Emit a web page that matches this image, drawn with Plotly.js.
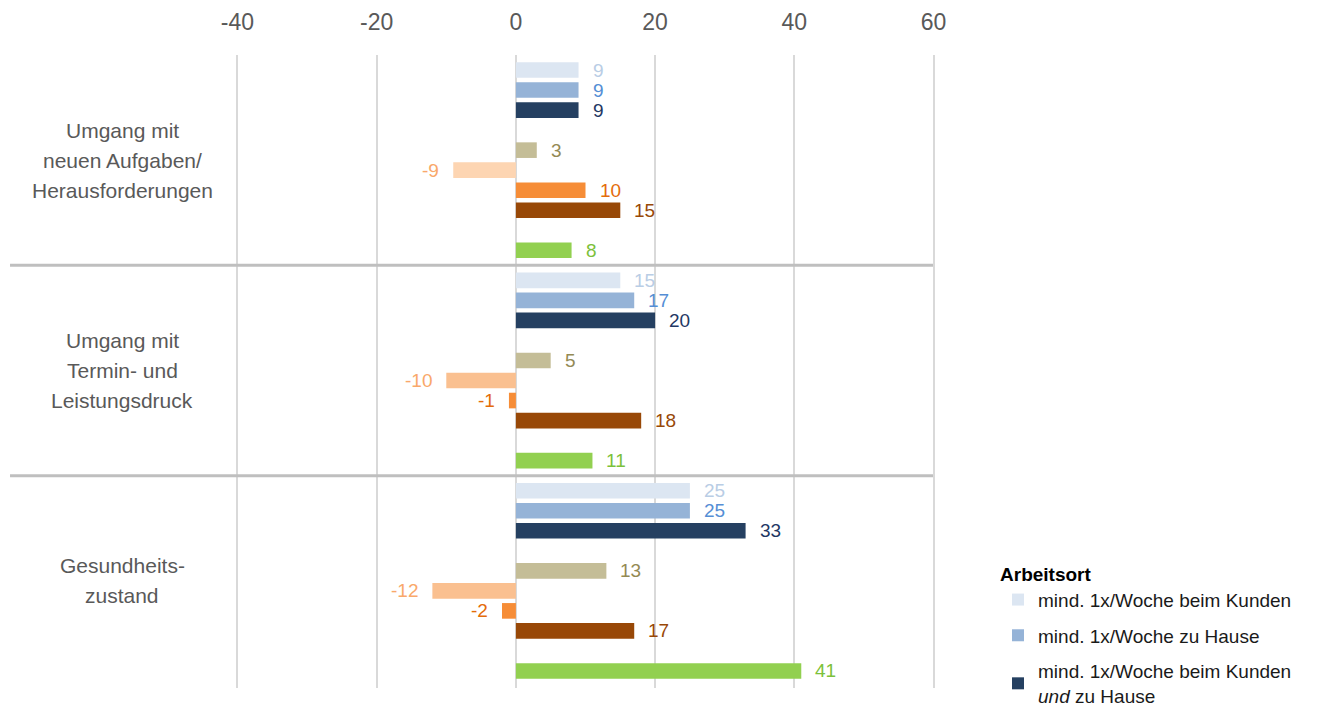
<!DOCTYPE html>
<html>
<head>
<meta charset="utf-8">
<script src="https://cdn.plot.ly/plotly-3.0.1.min.js"></script>
<style>
  html, body { margin: 0; padding: 0; background: #ffffff; }
  #chart { width: 1317px; height: 718px; }
</style>
</head>
<body>
<div id="chart"></div>
<script>
// Kategorien (Zeilengruppen von oben nach unten)
const categories = [
  'Umgang mit<br>neuen Aufgaben/<br>Herausforderungen',
  'Umgang mit<br>Termin- und<br>Leistungsdruck',
  'Gesundheits-<br>zustand'
];

// Werte je Reihe, in der Reihenfolge der Kategorien
const beimKunden     = [9, 15, 25];
const zuHause        = [9, 17, 25];
const kundenUndHause = [9, 20, 33];
const reihe4         = [3, 5, 13];
const reihe5         = [-9, -10, -12];
const reihe6         = [10, -1, -2];
const reihe7         = [15, 18, 17];
const reihe8         = [8, 11, 41];

// Achsenbeschriftung
const tickValues = [-40, -20, 0, 20, 40, 60];
const tickLabels = ['-40', '-20', '0', '20', '40', '60'];

// Legendentexte
const legendTitle = 'Arbeitsort';
const legendNames = [
  'mind. 1x/Woche beim Kunden',
  'mind. 1x/Woche zu Hause',
  'mind. 1x/Woche beim Kunden<br><i>und</i> zu Hause'
];

// Darstellung der Reihen: Zeile innerhalb der Gruppe, Balken- und Beschriftungsfarbe
const seriesDefs = [
  { values: beimKunden,     slot: 0, bar: '#dce6f2', label: '#b9cde5', name: legendNames[0], legend: true },
  { values: zuHause,        slot: 1, bar: '#95b3d7', label: '#558ed5', name: legendNames[1], legend: true },
  { values: kundenUndHause, slot: 2, bar: '#254061', label: '#1f3864', name: legendNames[2], legend: true },
  { values: reihe4,         slot: 4, bar: '#c4bd97', label: '#948a54', name: 'Reihe 4', legend: false },
  { values: reihe5,         slot: 5, bar: ['#fdd5b2', '#fac090', '#fac090'], label: '#f9a86a', name: 'Reihe 5', legend: false },
  { values: reihe6,         slot: 6, bar: '#f68d37', label: '#e46c0a', name: 'Reihe 6', legend: false },
  { values: reihe7,         slot: 7, bar: '#984807', label: '#984807', name: 'Reihe 7', legend: false },
  { values: reihe8,         slot: 9, bar: '#92d050', label: '#7cc13a', name: 'Reihe 8', legend: false }
];

const GROUP_STEP = 10.5;   // Abstand zweier Gruppen in Zeileneinheiten
const groupPos = (g, slot) => g * GROUP_STEP + slot;

const traces = seriesDefs.map((s, i) => ({
  type: 'bar',
  orientation: 'h',
  name: s.name,
  x: s.values,
  y: s.values.map((_, g) => groupPos(g, s.slot)),
  width: 0.78,
  marker: { color: s.bar, line: { width: 0 } },
  showlegend: s.legend,
  legendgroup: 'g' + i,
  hoverinfo: 'x'
}));

const sansFont = '"Liberation Sans", Arial, sans-serif';
const annotations = [];

// Wertebeschriftungen neben den Balkenenden
seriesDefs.forEach(s => {
  s.values.forEach((v, g) => {
    annotations.push({
      x: v, y: groupPos(g, s.slot), xref: 'x', yref: 'y',
      text: String(v), showarrow: false,
      xanchor: v >= 0 ? 'left' : 'right',
      xshift: v >= 0 ? 12 : -12,
      font: { family: sansFont, size: 19, color: s.label }
    });
  });
});

// Kategoriebeschriftungen links, zeilenweise gesetzt
const LINE_GAP = 30;
categories.forEach((c, g) => {
  const lines = c.split('<br>');
  lines.forEach((ln, k) => {
    annotations.push({
      x: -0.1593, xref: 'paper',
      y: groupPos(g, 4.5), yref: 'y',
      yshift: -(k - (lines.length - 1) / 2) * LINE_GAP,
      text: ln, showarrow: false, xanchor: 'center', yanchor: 'middle',
      font: { family: sansFont, size: 21, color: '#595959' }
    });
  });
});

// Trennlinien zwischen den Gruppen
const shapes = [1, 2].map(g => ({
  type: 'line', xref: 'paper', yref: 'y',
  x0: -0.3186, x1: 0.9943,
  y0: g * GROUP_STEP - 0.75, y1: g * GROUP_STEP - 0.75,
  line: { color: '#bfbfbf', width: 3 }
}));

const layout = {
  width: 1317, height: 718,
  margin: { l: 234, r: 380, t: 55, b: 30, pad: 0 },
  paper_bgcolor: '#ffffff', plot_bgcolor: '#ffffff',
  barmode: 'overlay',
  showlegend: true,
  xaxis: {
    side: 'top',
    range: [-40.5, 60.5],
    tickvals: tickValues,
    ticktext: tickLabels,
    ticks: '',
    ticklabelstandoff: 19,
    automargin: false,
    showgrid: true, gridcolor: '#d9d9d9', gridwidth: 2,
    zeroline: true, zerolinecolor: '#d9d9d9', zerolinewidth: 2,
    showline: false,
    tickfont: { family: sansFont, size: 23, color: '#595959' },
    fixedrange: true
  },
  yaxis: {
    range: [30.85, -0.75],
    automargin: false,
    showticklabels: false, showgrid: false, zeroline: false, showline: false,
    fixedrange: true
  },
  legend: {
    title: { text: '<b>' + legendTitle + '</b>', font: { family: sansFont, size: 19, color: '#000000' } },
    xref: 'container', yref: 'container',
    x: 0.7578, xanchor: 'left',
    y: 0.2256, yanchor: 'top',
    font: { family: sansFont, size: 19, color: '#1a1a1a' },
    traceorder: 'grouped',
    tracegroupgap: 8,
    bgcolor: 'rgba(0,0,0,0)'
  },
  annotations: annotations,
  shapes: shapes
};

Plotly.newPlot('chart', traces, layout, { displayModeBar: false, staticPlot: true });
</script>
</body>
</html>
